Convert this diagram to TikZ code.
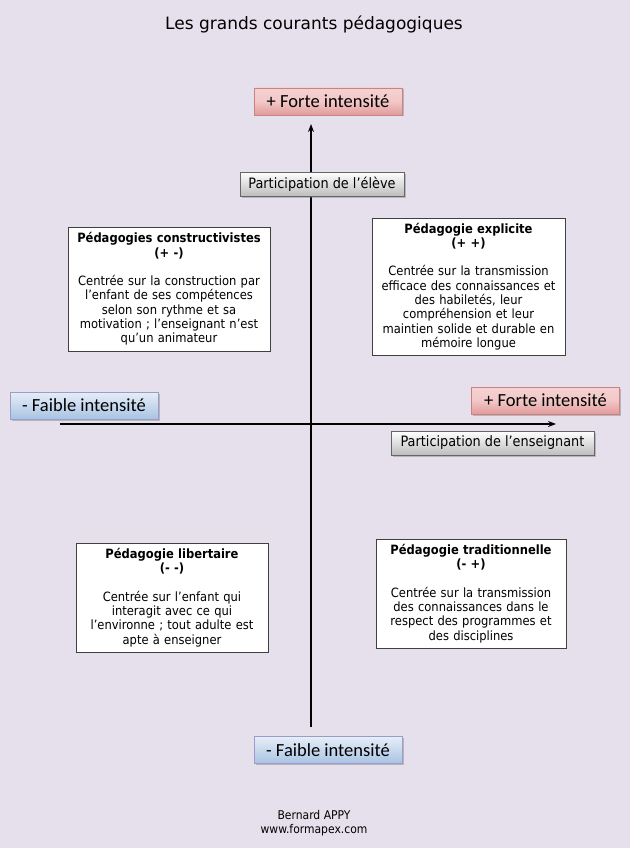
\documentclass[tikz,border=0pt]{standalone}
\usepackage{fontspec}
\setmainfont{DejaVu Sans}
\newfontfamily\tahoma{DejaVu Sans Condensed}
\newfontfamily\calib{Carlito}
\usetikzlibrary{shadows,arrows.meta}
\definecolor{bg}{HTML}{E6E0EC}
\definecolor{redtop}{HTML}{F6D2D2}
\definecolor{redbot}{HTML}{E29A9A}
\definecolor{bluetop}{HTML}{E6EEF8}
\definecolor{bluebot}{HTML}{A9C3E3}
\definecolor{graybot}{HTML}{BDBDBD}
\tikzset{
  shad/.style={drop shadow={shadow xshift=1.5pt,shadow yshift=-1.5pt,opacity=0.35,fill=black!60}},
  redlab/.style={shad,draw=red!40!gray!70,line width=0.5pt,top color=redtop,bottom color=redbot,middle color=redtop!80!redbot,minimum width=148pt,minimum height=27pt,inner sep=0pt,font=\calib\fontsize{18.5}{20}\selectfont},
  bluelab/.style={shad,draw=blue!30!gray!60,line width=0.5pt,top color=bluetop,bottom color=bluebot,minimum width=148pt,minimum height=27pt,inner sep=0pt,font=\calib\fontsize{18.5}{20}\selectfont},
  graylab/.style={shad,draw=gray!80!black,line width=0.5pt,top color=white,bottom color=graybot,minimum height=24pt,inner sep=0pt,font=\tahoma\fontsize{14.3}{16}\selectfont},
  quad/.style={draw=black!75,line width=0.8pt,fill=white,align=center,inner sep=0pt,font=\tahoma\fontsize{12.8}{14.3}\selectfont},
  axis/.style={line width=1.8pt,-{Stealth[length=8pt,width=6pt]}},
}
\begin{document}
\begin{tikzpicture}[x=1pt,y=-1pt]
\fill[bg] (0,0) rectangle (630,848);
\useasboundingbox (0,0) rectangle (630,848);

\node (title) at (314,24) {\fontsize{17}{20}\selectfont Les grands courants pédagogiques};

% axes
\coordinate (vbot) at (311,727);
\coordinate (vtop) at (311,124);
\coordinate (hleft) at (60,424);
\coordinate (hright) at (556,424);
\draw[line width=2pt] (vbot) -- (311,130);
\draw[line width=2pt] (hleft) -- (550,424);
\draw[axis,line width=1.5pt] (311,132) -- (vtop);
\draw[axis,line width=1.5pt] (548,424) -- (hright);

\node[redlab] (topred) at (328,101.5) {+ Forte intensité};
\node[redlab] (rightred) at (545.5,400.5) {+ Forte intensité};
\node[bluelab] (leftblue) at (84,405.5) {- Faible intensité};
\node[bluelab] (botblue) at (328,750) {- Faible intensité};

\node[graylab,minimum width=164pt] (eleve) at (322,184) {Participation de l’élève};
\node[graylab,minimum width=203pt] (ens) at (492.5,443) {Participation de l’enseignant};

\node[quad,minimum width=202pt,minimum height=124pt,text width=198pt] (constr) at (169,289)
{\textbf{Pédagogies constructivistes}\\\textbf{(+ -)}\\[14.3pt]Centrée sur la construction par\\l’enfant de ses compétences\\selon son rythme et sa\\motivation ; l’enseignant n’est\\qu’un animateur};

\node[quad,minimum width=193pt,minimum height=137pt,text width=190pt] (expl) at (468.5,286.5)
{\textbf{Pédagogie explicite}\\\textbf{(+ +)}\\[14.3pt]Centrée sur la transmission\\efficace des connaissances et\\des habiletés, leur\\compréhension et leur\\maintien solide et durable en\\mémoire longue};

\node[quad,minimum width=192pt,minimum height=109pt,text width=188pt] (lib) at (172,597.5)
{\textbf{Pédagogie libertaire}\\\textbf{(- -)}\\[14.3pt]Centrée sur l’enfant qui\\interagit avec ce qui\\l’environne ; tout adulte est\\apte à enseigner};

\node[quad,minimum width=190pt,minimum height=109pt,text width=188pt] (trad) at (471,593.5)
{\textbf{Pédagogie traditionnelle}\\\textbf{(- +)}\\[14.3pt]Centrée sur la transmission\\des connaissances dans le\\respect des programmes et\\des disciplines};

\node[align=center,font=\tahoma\fontsize{12}{14}\selectfont] (footer) at (314,823) {Bernard APPY\\www.formapex.com};
\end{tikzpicture}
\end{document}
